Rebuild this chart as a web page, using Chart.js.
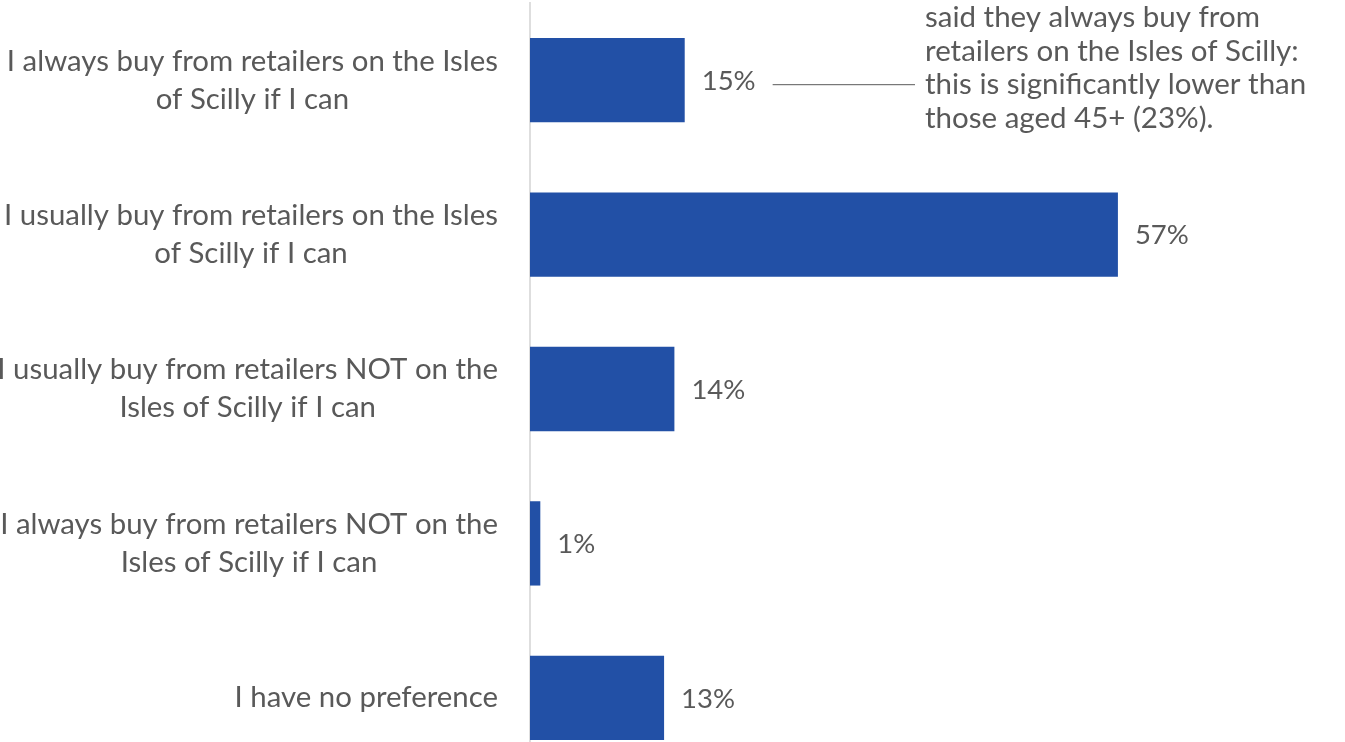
<!DOCTYPE html>
<html>
<head>
<meta charset="utf-8">
<script src="https://cdn.jsdelivr.net/npm/chart.js@4"></script>
<style>
  html, body { margin: 0; padding: 0; background: #ffffff; overflow: hidden; }
  canvas { display: block; }
</style>
</head>
<body>
<canvas id="chart" width="1345" height="775"></canvas>
<script>
// Shopping preference categories (wrapped as they appear on the axis)
const categories = [
  ["I always buy from retailers on the Isles", "of Scilly if I can"],
  ["I usually buy from retailers on the Isles", "of Scilly if I can"],
  ["I usually buy from retailers NOT on the", "Isles of Scilly if I can"],
  ["I always buy from retailers NOT on the", "Isles of Scilly if I can"],
  ["I have no preference"]
];
// Share of respondents, %
const shares = [15, 57, 14, 1, 13];
// Call-out attached to the first bar
const noteLines = [
  "said they always buy from",
  "retailers on the Isles of Scilly:",
  "this is significantly lower than",
  "those aged 45+ (23%)."
];

const FONT = "Lato, 'Open Sans', sans-serif";
const TEXT = "#595959";
const LABEL_SIZE = 29.4;
const LABEL_LINE = 38;
const LABEL_GAP = 32;

// Category labels: each block sits flush against the axis,
// with its lines centred on one another.
const categoryLabels = {
  id: "categoryLabels",
  afterDraw(chart) {
    const ctx = chart.ctx;
    const yScale = chart.scales.y;
    const right = yScale.right - LABEL_GAP;
    ctx.save();
    ctx.font = LABEL_SIZE + "px " + FONT;
    ctx.fillStyle = TEXT;
    ctx.textAlign = "center";
    ctx.textBaseline = "middle";
    chart.data.labels.forEach((lines, i) => {
      const blockW = Math.max(...lines.map(l => ctx.measureText(l).width));
      const cx = right - blockW / 2;
      const cy = yScale.getPixelForTick(i);
      const top = cy - (lines.length - 1) * LABEL_LINE / 2;
      lines.forEach((l, j) => ctx.fillText(l, cx, top + j * LABEL_LINE));
    });
    ctx.restore();
  }
};

const valueLabels = {
  id: "valueLabels",
  afterDatasetsDraw(chart) {
    const ctx = chart.ctx;
    const meta = chart.getDatasetMeta(0);
    ctx.save();
    ctx.font = "27.5px " + FONT;
    ctx.fillStyle = TEXT;
    ctx.textAlign = "left";
    ctx.textBaseline = "middle";
    meta.data.forEach((bar, i) => {
      ctx.fillText(shares[i] + "%", bar.x + 17, bar.y + 1);
    });
    ctx.restore();
  }
};

const callout = {
  id: "callout",
  afterDatasetsDraw(chart) {
    const ctx = chart.ctx;
    const bar = chart.getDatasetMeta(0).data[0];
    ctx.save();
    ctx.font = "27.5px " + FONT;
    const labelEnd = bar.x + 17 + ctx.measureText(shares[0] + "%").width;
    const lineY = bar.y + 4.5;
    ctx.strokeStyle = TEXT;
    ctx.lineWidth = 1;
    ctx.beginPath();
    ctx.moveTo(labelEnd + 17, lineY);
    ctx.lineTo(915, lineY);
    ctx.stroke();

    ctx.font = "29.5px " + FONT;
    ctx.fillStyle = TEXT;
    ctx.textAlign = "left";
    ctx.textBaseline = "middle";
    const firstY = bar.y - 63;
    noteLines.forEach((t, i) => {
      ctx.fillText(t, 925, firstY + i * 33.8);
    });
    ctx.restore();
  }
};

new Chart(document.getElementById("chart"), {
  type: "bar",
  data: {
    labels: categories,
    datasets: [{
      data: shares,
      backgroundColor: "#2250A6",
      borderWidth: 0,
      barPercentage: 0.546,
      categoryPercentage: 1
    }]
  },
  options: {
    indexAxis: "y",
    responsive: false,
    animation: false,
    layout: { padding: { top: 3, right: 93, bottom: 0, left: 0 } },
    plugins: {
      legend: { display: false },
      tooltip: { enabled: false }
    },
    scales: {
      x: {
        display: false,
        min: 0,
        max: 70
      },
      y: {
        afterFit(scale) {
          scale.width = 530;
          scale.paddingTop = 0;
          scale.paddingBottom = 0;
        },
        grid: { display: false, drawTicks: false },
        border: { display: true, color: "#dedede", width: 2 },
        ticks: { display: false }
      }
    }
  },
  plugins: [categoryLabels, valueLabels, callout]
});
</script>
</body>
</html>
